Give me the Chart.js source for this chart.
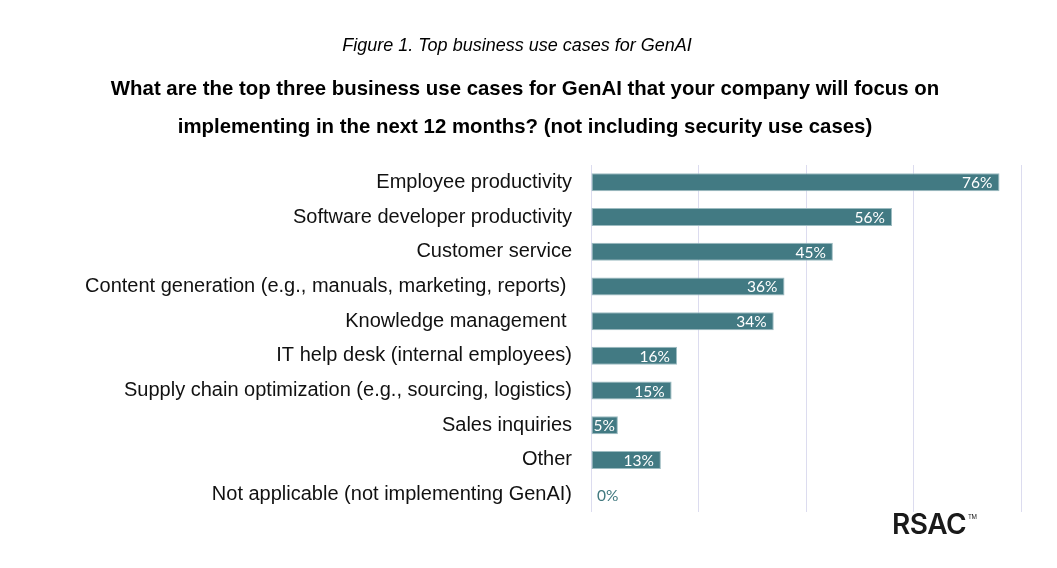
<!DOCTYPE html>
<html>
<head>
<meta charset="utf-8">
<script src="https://cdn.jsdelivr.net/npm/chart.js@4"></script>
<style>
  html,body{margin:0;padding:0;background:#fff;}
  #wrap{position:relative;width:1057px;height:568px;font-family:"Liberation Sans",Arial,sans-serif;}
  canvas{position:absolute;left:0;top:0;}
  .cap{position:absolute;left:0;width:1034px;text-align:center;font-style:italic;font-size:18px;top:35px;color:#000;}
  .q{position:absolute;left:0;width:1050px;text-align:center;font-weight:bold;font-size:20.4px;line-height:38px;top:69px;color:#000;}
  .logo{position:absolute;left:892px;top:507px;font-family:Inter,"DejaVu Sans",sans-serif;font-weight:600;font-size:28px;letter-spacing:-0.5px;color:#1a1a1a;}
  .logo sup{font-size:6px;font-weight:normal;vertical-align:top;position:relative;top:6px;margin-left:2px;}
</style>
</head>
<body>
<div id="wrap">
  <canvas id="c" width="1057" height="568"></canvas>
  <div class="cap">Figure 1. Top business use cases for GenAI</div>
  <div class="q">What are the top three business use cases for GenAI that your company will focus on<br>implementing in the next 12 months? (not including security use cases)</div>
  <div class="logo">RSAC<sup>TM</sup></div>
</div>
<script>
const categories = [
  "Employee productivity",
  "Software developer productivity",
  "Customer service",
  "Content generation (e.g., manuals, marketing, reports) ",
  "Knowledge management ",
  "IT help desk (internal employees)",
  "Supply chain optimization (e.g., sourcing, logistics)",
  "Sales inquiries",
  "Other",
  "Not applicable (not implementing GenAI)"
];
const values = [76, 56, 45, 36, 34, 16, 15, 5, 13, 0];
const xTicks = [0, 20, 40, 60, 80];

const labelPlugin = {
  id: 'barLabels',
  afterDatasetsDraw(chart) {
    const ctx = chart.ctx;
    const meta = chart.getDatasetMeta(0);
    ctx.save();
    ctx.font = '15.5px Lato, "Noto Sans", sans-serif';
    ctx.textBaseline = 'middle';
    meta.data.forEach((bar, i) => {
      const v = values[i];
      const txt = v + '%';
      const w = ctx.measureText(txt).width;
      if (v === 0) {
        ctx.fillStyle = '#41797f';
        ctx.textAlign = 'left';
        ctx.fillText(txt, bar.x + 6, bar.y + 1);
      } else {
        ctx.fillStyle = '#ffffff';
        ctx.textAlign = 'left';
        let x = bar.x - 7 - w;
        if (x < bar.base + 2) x = bar.base + 2;
        ctx.fillText(txt, x, bar.y + 1);
      }
    });
    ctx.restore();
  }
};

new Chart(document.getElementById('c'), {
  type: 'bar',
  data: {
    labels: categories,
    datasets: [{
      data: values,
      backgroundColor: '#427a83',
      borderColor: '#9dbcc1',
      borderWidth: 1,
      borderSkipped: false,
      barPercentage: 0.52,
      categoryPercentage: 1.0
    }]
  },
  options: {
    indexAxis: 'y',
    responsive: false,
    animation: false,
    devicePixelRatio: 1,
    layout: { padding: { top: 165, bottom: 56, right: 36, left: 0 } },
    plugins: { legend: { display: false }, tooltip: { enabled: false } },
    scales: {
      x: {
        min: 0, max: 80,
        afterBuildTicks(scale) { scale.ticks = xTicks.map(v => ({ value: v })); },
        ticks: { display: false },
        grid: { color: '#dcdcef', lineWidth: 1, drawTicks: false },
        border: { display: false }
      },
      y: {
        afterFit(scale) { scale.width = 591; },
        ticks: {
          color: '#111111',
          padding: 19,
          font: { family: '"Liberation Sans", Arial, sans-serif', size: 20 }
        },
        grid: { display: false, drawTicks: false },
        border: { display: false }
      }
    }
  },
  plugins: [labelPlugin]
});
</script>
</body>
</html>
